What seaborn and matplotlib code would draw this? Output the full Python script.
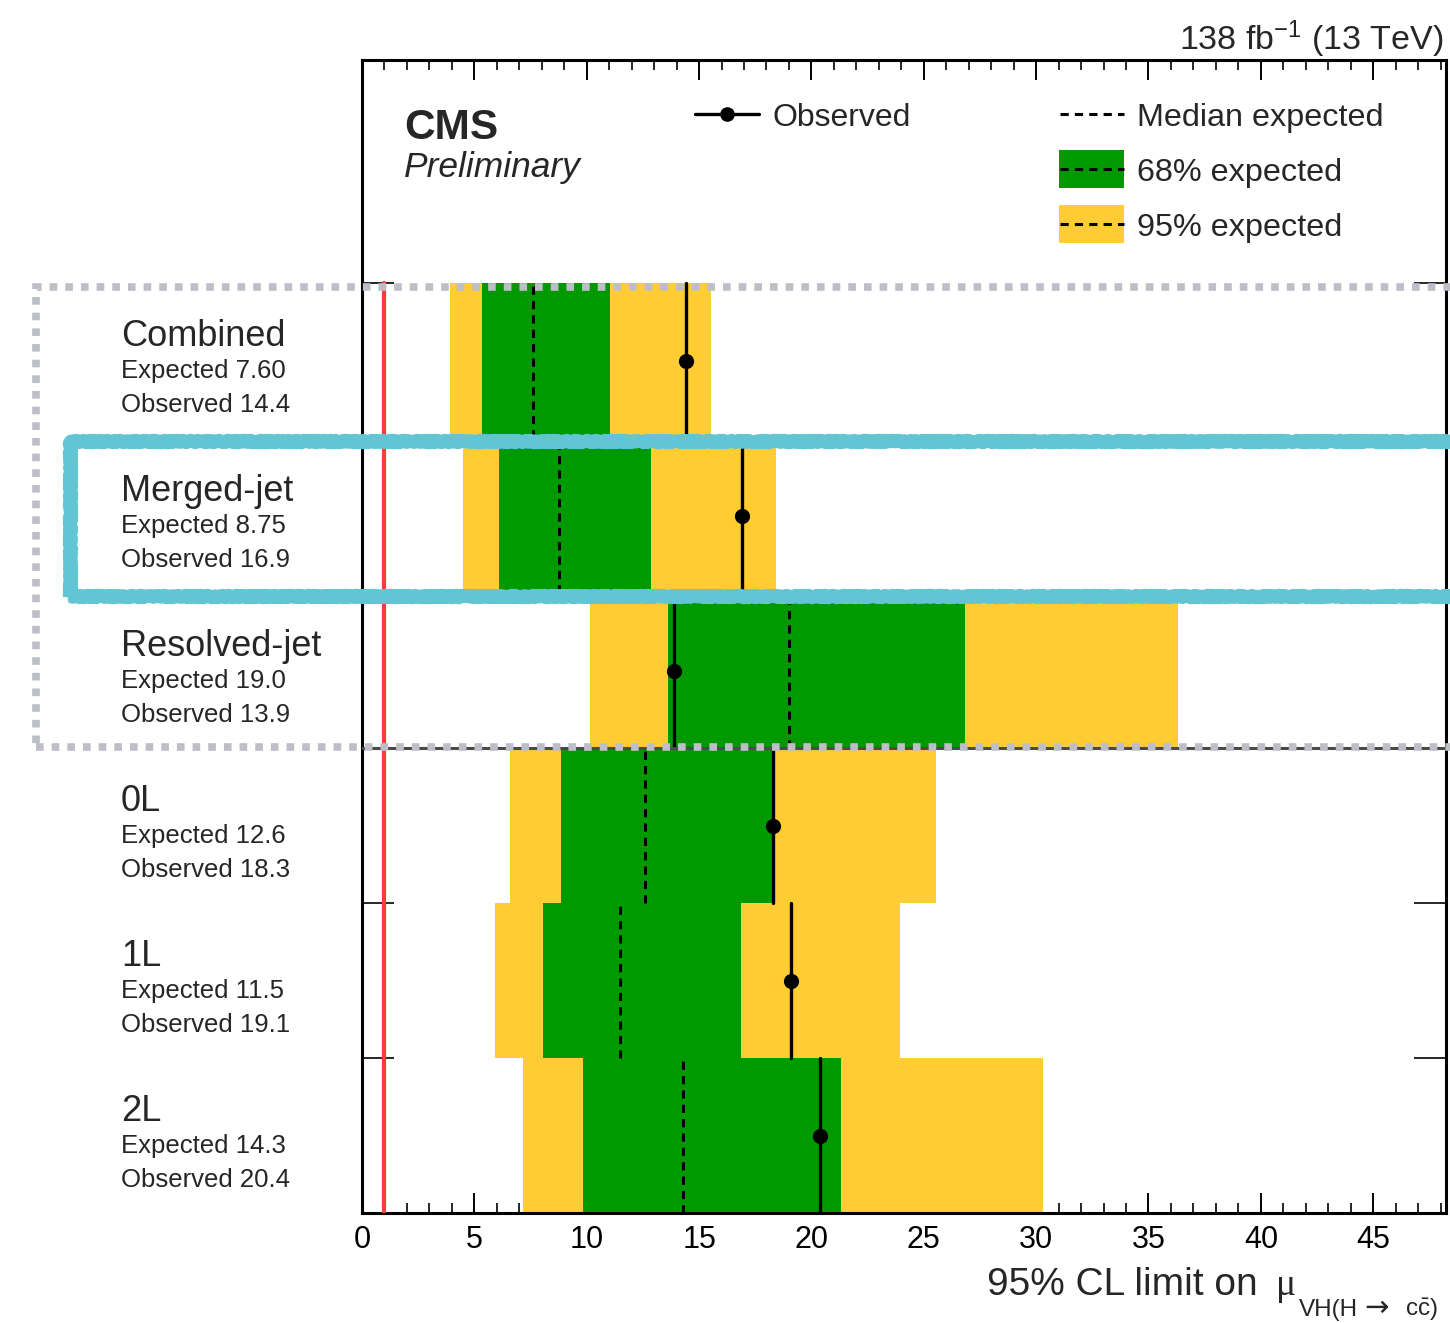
import numpy as np
import pandas as pd
import matplotlib
matplotlib.use("Agg")
import matplotlib.pyplot as plt
import seaborn as sns
from matplotlib.patches import Rectangle
from matplotlib.lines import Line2D
from matplotlib.ticker import MultipleLocator

# ---------------- data ----------------
categories = ["Combined", "Merged-jet", "Resolved-jet", "0L", "1L", "2L"]
expected = [7.60, 8.75, 19.0, 12.6, 11.5, 14.3]
observed = [14.4, 16.9, 13.9, 18.3, 19.1, 20.4]
band68_lo = [5.34, 6.10, 13.62, 8.86, 8.06, 9.84]
band68_hi = [11.04, 12.86, 26.84, 18.34, 16.87, 21.32]
band95_lo = [3.92, 4.49, 10.15, 6.59, 5.92, 7.17]
band95_hi = [15.53, 18.42, 36.30, 25.55, 23.94, 30.31]
exp_labels = ["7.60", "8.75", "19.0", "12.6", "11.5", "14.3"]
obs_labels = ["14.4", "16.9", "13.9", "18.3", "19.1", "20.4"]
x_ticks = [0, 5, 10, 15, 20, 25, 30, 35, 40, 45]
sm_value = 1.0

# ---------------- style ----------------
sns.set_theme(style="ticks")
plt.rcParams["font.family"] = ["Liberation Sans", "DejaVu Sans"]
plt.rcParams["mathtext.fontset"] = "custom"
plt.rcParams["mathtext.rm"] = "Liberation Sans"
plt.rcParams["mathtext.it"] = "Liberation Sans:italic"
plt.rcParams["mathtext.bf"] = "Liberation Sans:bold"

GREEN = "#009900"
YELLOW = "#FFCC33"
RED = "#FF3B3B"
CYAN = "#63C5D4"
GREY = "#BEBEC8"

W, H = 1450, 1323
fig = plt.figure(figsize=(W / 100, H / 100), dpi=100)
ax = fig.add_axes([362 / W, 1 - 1213 / H, (1446 - 362) / W, (1213 - 60) / H])


def fx(x):
    return x / W


def fy(y):
    return 1 - y / H


n = len(categories)
centers = [n - i - 0.5 for i in range(n)]
df = pd.DataFrame({"cat": categories, "y": centers, "obs": observed, "exp": expected})

# bands
ax.barh(centers, np.array(band95_hi) - np.array(band95_lo), left=band95_lo,
        height=1.0, color=YELLOW, linewidth=0, zorder=1)
ax.barh(centers, np.array(band68_hi) - np.array(band68_lo), left=band68_lo,
        height=1.0, color=GREEN, linewidth=0, zorder=2)
# median expected
for c, e in zip(centers, expected):
    ax.plot([e, e], [c - 0.5, c + 0.5], color="black", lw=2.2,
            linestyle=(0, (2.7, 2.0)), zorder=3)
# observed
for c, o in zip(centers, observed):
    ax.plot([o, o], [c - 0.5, c + 0.5], color="black", lw=2.4, zorder=4)
sns.scatterplot(data=df, x="obs", y="y", ax=ax, color="black", s=120,
                edgecolor="black", linewidth=0, zorder=5, legend=False)

# SM line
ax.plot([sm_value, sm_value], [0, n], color=RED, lw=3, zorder=6)
# separator
ax.axhline(3, color="#4a4a4a", lw=2.2, zorder=6)

ax.set_xlim(0, 48.24)
ax.set_ylim(0, 7.44)
ax.set_xticks(x_ticks)
ax.set_xticklabels([str(t) for t in x_ticks])
ax.xaxis.set_minor_locator(MultipleLocator(1))
ax.set_yticks(range(0, n + 1))
ax.set_yticklabels([])
ax.set_xlabel("")
ax.set_ylabel("")
ax.tick_params(axis="x", which="major", direction="in", length=14.4, width=1.4,
               top=True, bottom=True, labelsize=22, pad=9, colors="black")
ax.tick_params(axis="x", which="minor", direction="in", length=7, width=1.4,
               top=True, bottom=True)
ax.tick_params(axis="y", which="major", direction="in", length=23, width=1.4,
               left=True, right=True)
for s in ax.spines.values():
    s.set_visible(True)
    s.set_linewidth(2.2)
    s.set_color("black")

# row labels
for i, cat in enumerate(categories):
    t = 283 + 155 * i
    fig.text(fx(121), fy(t + 63), cat, fontsize=26, va="baseline", ha="left")
    fig.text(fx(121), fy(t + 95), "Expected " + exp_labels[i], fontsize=18.5,
             va="baseline", ha="left")
    fig.text(fx(121), fy(t + 129), "Observed " + obs_labels[i], fontsize=18.5,
             va="baseline", ha="left")

# header texts
fig.text(fx(1444), fy(50), r"138 fb$^{\mathregular{-1}}$ (13 TeV)", fontsize=24.5,
         ha="right", va="baseline")
fig.text(fx(404), fy(139), "CMS", fontsize=30.5, fontweight="bold",
         ha="left", va="baseline")
fig.text(fx(404), fy(177), "Preliminary", fontsize=25.5, fontstyle="italic",
         ha="left", va="baseline")

# legend (manual)
fig.add_artist(Line2D([fx(695), fx(759)], [fy(114), fy(114)], color="black", lw=2.4))
fig.add_artist(Line2D([fx(727)], [fy(114)], marker="o", color="black", ms=9.5))
fig.text(fx(772), fy(126), "Observed", fontsize=23, ha="left", va="baseline")

fig.add_artist(Line2D([fx(1060), fx(1124)], [fy(114), fy(114)], color="black",
                      lw=2.2, linestyle=(0, (2.7, 2.0))))
fig.text(fx(1137), fy(126), "Median expected", fontsize=23.3, ha="left", va="baseline")

fig.add_artist(Rectangle((fx(1059), fy(188)), (1124 - 1059) / W, 38 / H,
                         transform=fig.transFigure, color=GREEN, lw=0))
fig.add_artist(Line2D([fx(1060), fx(1124)], [fy(169), fy(169)], color="black",
                      lw=2.2, linestyle=(0, (2.7, 2.0))))
fig.text(fx(1137), fy(181), "68% expected", fontsize=23.3, ha="left", va="baseline")

fig.add_artist(Rectangle((fx(1059), fy(243)), (1124 - 1059) / W, 38 / H,
                         transform=fig.transFigure, color=YELLOW, lw=0))
fig.add_artist(Line2D([fx(1060), fx(1124)], [fy(224), fy(224)], color="black",
                      lw=2.2, linestyle=(0, (2.7, 2.0))))
fig.text(fx(1137), fy(236), "95% expected", fontsize=23.3, ha="left", va="baseline")

# x label
fig.text(fx(987), fy(1295), "95% CL limit on", fontsize=28, ha="left", va="baseline")
fig.text(fx(1276), fy(1295), "\u03bc", fontsize=27, ha="left", va="baseline",
         family=["Liberation Serif", "DejaVu Serif"])
fig.text(fx(1299), fy(1316), "VH(H", fontsize=17.5, ha="left", va="baseline")
fig.text(fx(1364), fy(1316), "\u2192", fontsize=21, ha="left", va="baseline",
         family=["DejaVu Sans"])
fig.text(fx(1405), fy(1316), "c$\\bar{\\mathrm{c}}$)", fontsize=17.5,
         ha="left", va="baseline")

# annotation: grey dotted box
grey_box = Rectangle((fx(36), fy(747)), (1460 - 36) / W, (747 - 287) / H,
                     transform=fig.transFigure, fill=False, edgecolor=GREY,
                     lw=5.5, linestyle=(0, (1.0, 1.05)), zorder=20)
fig.add_artist(grey_box)

# annotation: cyan hand-drawn box
for lw_, sk in [(9.0, (1.5, 6, 3)), (6.5, (2.5, 4, 4))]:
    cyan_box = Rectangle((fx(70), fy(596)), (1470 - 70) / W, (596 - 441) / H,
                         transform=fig.transFigure, fill=False, edgecolor=CYAN,
                         lw=lw_, zorder=21, joinstyle="round")
    cyan_box.set_sketch_params(scale=sk[0], length=sk[1], randomness=sk[2])
    fig.add_artist(cyan_box)

fig.savefig("out.png", dpi=100)
